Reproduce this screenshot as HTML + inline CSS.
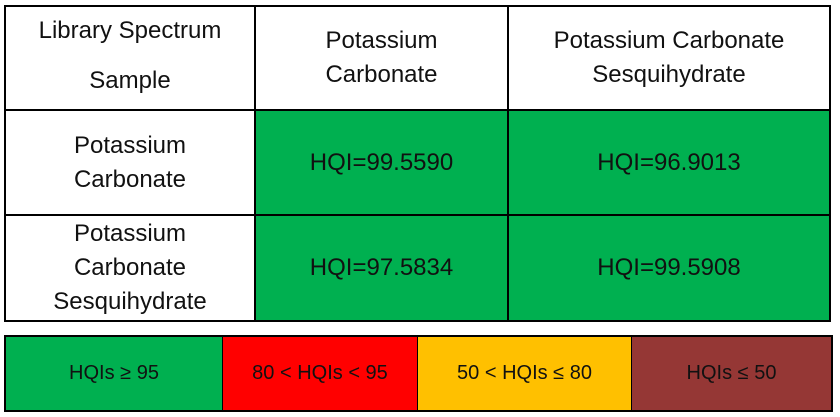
<!DOCTYPE html>
<html><head><style>
body{margin:0;width:840px;height:417px;background:#fff;position:relative;font-family:"Liberation Sans",sans-serif;overflow:hidden}
.c{position:absolute;display:flex;align-items:center;justify-content:center;text-align:center;box-sizing:border-box;color:#111}
.t{font-size:24px;line-height:34px}
.g{background:#00b050}
.l{font-size:20px}
</style></head><body>
<div style="position:absolute;left:4px;top:5px;width:827px;height:317px;border:2px solid #000;box-sizing:border-box"></div>
<div style="position:absolute;left:254px;top:5px;width:2px;height:317px;background:#000"></div>
<div style="position:absolute;left:507px;top:5px;width:2px;height:317px;background:#000"></div>
<div style="position:absolute;left:4px;top:109px;width:827px;height:2px;background:#000"></div>
<div style="position:absolute;left:4px;top:214px;width:827px;height:2px;background:#000"></div>
<div class="c g t" style="left:256px;top:111px;width:251px;height:103px">HQI=99.5590</div>
<div class="c g t" style="left:509px;top:111px;width:320px;height:103px">HQI=96.9013</div>
<div class="c g t" style="left:256px;top:216px;width:251px;height:104px">HQI=97.5834</div>
<div class="c g t" style="left:509px;top:216px;width:320px;height:104px">HQI=99.5908</div>
<div class="c t" style="left:6px;top:5px;width:248px;height:102px;line-height:50px">Library Spectrum<br>Sample</div>
<div class="c t" style="left:256px;top:7px;width:251px;height:102px">Potassium<br>Carbonate</div>
<div class="c t" style="left:509px;top:7px;width:320px;height:102px">Potassium Carbonate<br>Sesquihydrate</div>
<div class="c t" style="left:6px;top:111px;width:248px;height:103px">Potassium<br>Carbonate</div>
<div class="c t" style="left:6px;top:216px;width:248px;height:104px">Potassium<br>Carbonate<br>Sesquihydrate</div>
<div style="position:absolute;left:4px;top:335px;width:829px;height:77px;border:2px solid #000;box-sizing:border-box"></div>
<div class="c l" style="left:6px;top:337px;width:216px;height:73px;background:#00b050">HQIs ≥ 95</div>
<div class="c l" style="left:223px;top:337px;width:194px;height:73px;background:#ff0000">80 &lt; HQIs &lt; 95</div>
<div class="c l" style="left:418px;top:337px;width:213px;height:73px;background:#ffc000">50 &lt; HQIs ≤ 80</div>
<div class="c l" style="left:632px;top:337px;width:199px;height:73px;background:#953735">HQIs ≤ 50</div>
<div style="position:absolute;left:222px;top:337px;width:1px;height:73px;background:#000"></div>
<div style="position:absolute;left:417px;top:337px;width:1px;height:73px;background:#000"></div>
<div style="position:absolute;left:631px;top:337px;width:1px;height:73px;background:#000"></div>
</body></html>
